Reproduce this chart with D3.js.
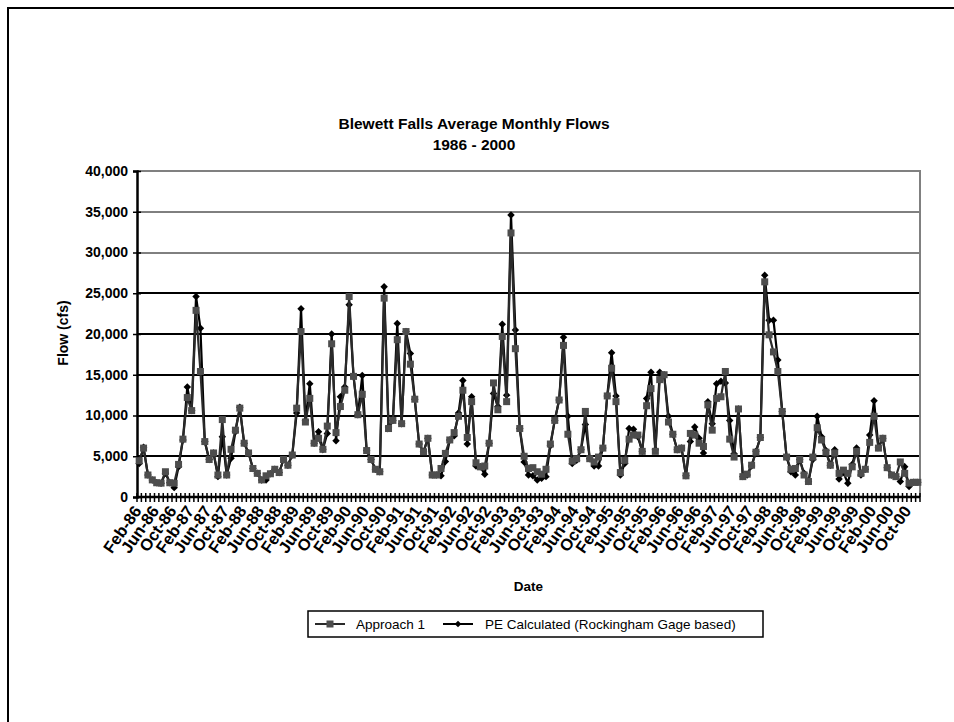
<!DOCTYPE html>
<html lang="en">
<head>
<meta charset="utf-8">
<title>Blewett Falls Average Monthly Flows</title>
<script type="text/javascript" src="https://d3js.org/d3.v7.min.js"></script>
<style type="text/css">
  html, body { margin: 0; padding: 0; background: #fff; }
  svg text { font-family: Arial, "Liberation Sans", sans-serif; fill: #000; }
  .bold { font-weight: bold; }
</style>
</head>
<body>
<script type="text/javascript">
// monthly data, Feb-86 .. Dec-00 (179 months)
var startMonth = new Date(1986, 1, 1);
var endMonth = new Date(2001, 0, 1);

var tickLabels = ["Feb-86","Jun-86","Oct-86","Feb-87","Jun-87","Oct-87","Feb-88","Jun-88","Oct-88",
  "Feb-89","Jun-89","Oct-89","Feb-90","Jun-90","Oct-90","Feb-91","Jun-91","Oct-91","Feb-92","Jun-92",
  "Oct-92","Feb-93","Jun-93","Oct-93","Feb-94","Jun-94","Oct-94","Feb-95","Jun-95","Oct-95","Feb-96",
  "Jun-96","Oct-96","Feb-97","Jun-97","Oct-97","Feb-98","Jun-98","Oct-98","Feb-99","Jun-99","Oct-99",
  "Feb-00","Jun-00","Oct-00"];

var yTicks = [0, 5000, 10000, 15000, 20000, 25000, 30000, 35000, 40000];

// Approach 1 (squares)
var approach1 = [
  4450, 6000, 2700, 2100, 1750, 1700, 3100, 1750, 1700, 4000, 7100, 12200,
  10600, 22900, 15400, 6800, 4600, 5400, 2700, 9500, 2700, 5850, 8200, 10900,
  6600, 5400, 3500, 2900, 2100, 2600, 2850, 3400, 3000, 4600, 3900, 5150,
  10900, 20300, 9200, 12100, 6600, 7200, 5850, 8700, 18800, 7900, 11100, 13100,
  24600, 14800, 10100, 12600, 5700, 4600, 3400, 3100, 24400, 8400, 9400, 19300,
  9000, 20300, 16300, 12000, 6500, 5550, 7200, 2700, 2700, 3500, 5350, 7000,
  7900, 9900, 13100, 7300, 11700, 4200, 3700, 3800, 6600, 14000, 10700, 19700,
  11700, 32400, 18200, 8400, 5000, 3500, 3600, 3100, 2800, 3400, 6500, 9400,
  11900, 18600, 7700, 4400, 4700, 5800, 10500, 4700, 4300, 4900, 6000, 12400,
  15800, 11700, 3000, 4500, 7100, 7600, 7600, 5600, 11200, 13300, 5600, 14400,
  15000, 9200, 7700, 5800, 6000, 2600, 7800, 7600, 6600, 6200, 11300, 8200,
  12100, 12300, 15400, 7100, 4900, 10800, 2500, 2800, 3900, 5500, 7300, 26400,
  19900, 17800, 15400, 10500, 4900, 3400, 3500, 4600, 2700, 1900, 4900, 8500,
  7000, 5500, 3900, 5400, 2900, 3300, 2900, 3700, 5600, 2900, 3400, 6700,
  9900, 6000, 7200, 3600, 2700, 2500, 4300, 2900, 1700, 1800, 1800
];

// PE Calculated (Rockingham Gage based) (diamonds)
var peCalc = [
  4100, 6100, 2700, 2100, 1750, 1700, 2900, 1750, 1150, 3700, 7000, 13500,
  10600, 24600, 20700, 6800, 4600, 5400, 2500, 7400, 2700, 4750, 8000, 11000,
  6600, 5400, 3500, 2900, 2100, 2100, 2850, 3400, 3000, 4600, 3900, 5150,
  10300, 23100, 9400, 13900, 6600, 8000, 5850, 7800, 20000, 6900, 12300, 13500,
  23600, 14800, 10100, 14900, 5700, 4600, 3400, 3100, 25800, 8600, 9400, 21300,
  9000, 20300, 17600, 12000, 6500, 5550, 7200, 2700, 2700, 2600, 4350, 7000,
  7500, 10300, 14300, 6500, 12300, 3800, 3700, 2800, 6600, 12700, 11100, 21200,
  12500, 34600, 20500, 8400, 4300, 2700, 2600, 2100, 2300, 2500, 6300, 9400,
  11900, 19600, 9900, 4100, 4500, 5800, 8900, 4700, 3800, 3800, 6000, 12400,
  17700, 12400, 2700, 4100, 8400, 8300, 7400, 5600, 12100, 15300, 5800, 15300,
  15000, 9900, 7700, 5800, 6000, 2600, 6800, 8600, 7200, 5400, 11700, 9000,
  13900, 14200, 14000, 9400, 5300, 10800, 2500, 2700, 3800, 5600, 7300, 27200,
  21700, 21700, 16800, 10500, 4900, 3100, 2700, 4600, 2900, 1900, 4600, 9900,
  7400, 5700, 3900, 5800, 2200, 3000, 1700, 4000, 6000, 2700, 3400, 7600,
  11800, 6100, 7200, 3600, 2700, 2500, 1900, 3700, 1300, 1800, 1800
];

var months = d3.timeMonth.range(startMonth, endMonth);
var fmt = d3.timeFormat("%b-%y");
var categories = months.map(function(d) { return fmt(d); });

var W = 954, H = 722;
var plot = { left: 137, right: 920, top: 171, bottom: 497 };

var svg = d3.select("body")
  .append("svg")
  .attr("width", W)
  .attr("height", H);

// outer chart border (right and bottom fall outside the picture)
svg.append("rect")
  .attr("x", 8).attr("y", 8)
  .attr("width", 1000).attr("height", 900)
  .attr("fill", "none")
  .attr("stroke", "#000")
  .attr("stroke-width", 2);

var x = d3.scaleBand()
  .domain(categories)
  .range([plot.left, plot.right])
  .paddingInner(0).paddingOuter(0);

var y = d3.scaleLinear()
  .domain([0, 40000])
  .range([plot.bottom, plot.top]);

// gridlines
svg.append("g")
  .selectAll("line")
  .data(yTicks.filter(function(d) { return d > 0 && d < 40000; }))
  .enter()
  .append("line")
  .attr("x1", plot.left).attr("x2", plot.right)
  .attr("y1", function(d) { return Math.round(y(d)); })
  .attr("y2", function(d) { return Math.round(y(d)); })
  .attr("stroke", "#000")
  .attr("stroke-width", function(d) { return d >= 30000 ? 1 : 2; });

// plot area frame top & right (gray)
svg.append("path")
  .attr("d", "M" + plot.left + "," + plot.top + "H" + plot.right + "V" + plot.bottom)
  .attr("fill", "none")
  .attr("stroke", "#808080")
  .attr("stroke-width", 2);

// y axis
var yAxis = d3.axisLeft(y)
  .tickValues(yTicks)
  .tickSize(4)
  .tickFormat(d3.format(","));
var gy = svg.append("g")
  .attr("transform", "translate(" + plot.left + ",0)")
  .call(yAxis);
gy.select(".domain").attr("stroke", "#000").attr("stroke-width", 2.5);
gy.selectAll(".tick line").attr("x2", 4).attr("x1", -4).attr("stroke-width", 1.5);
gy.selectAll(".tick text")
  .attr("x", -9)
  .attr("class", "bold")
  .style("font-size", "14px")
  .style("font-family", "Arial, 'Liberation Sans', sans-serif");

// x axis, cross ticks on every category boundary
var gx = svg.append("g");
gx.selectAll("line.tk")
  .data(d3.range(categories.length + 1))
  .enter()
  .append("line")
  .attr("class", "tk")
  .attr("x1", function(i) { return plot.left + i * x.step(); })
  .attr("x2", function(i) { return plot.left + i * x.step(); })
  .attr("y1", plot.bottom - 4)
  .attr("y2", plot.bottom + 5)
  .attr("stroke", "#000")
  .attr("stroke-width", 1.5);
gx.append("line")
  .attr("x1", plot.left).attr("x2", plot.right)
  .attr("y1", plot.bottom).attr("y2", plot.bottom)
  .attr("stroke", "#000")
  .attr("stroke-width", 2.5);

// every 4th month label, rotated
gx.selectAll("text")
  .data(categories.filter(function(d) { return tickLabels.indexOf(d) >= 0; }))
  .enter()
  .append("text")
  .attr("class", "bold")
  .style("font-size", "16.5px")
  .attr("text-anchor", "end")
  .attr("transform", function(d) {
    var cx = x(d) + x.bandwidth() / 2 + 3;
    return "translate(" + cx + "," + (plot.bottom + 14) + ") rotate(-55)";
  })
  .text(function(d) { return d; });

// series
var line = d3.line()
  .x(function(d, i) { return x(categories[i]) + x.bandwidth() / 2; })
  .y(function(d) { return y(d); });

svg.append("path")
  .datum(peCalc)
  .attr("d", line)
  .attr("fill", "none")
  .attr("stroke", "#000")
  .attr("stroke-width", 2.2);

svg.append("g")
  .selectAll("path")
  .data(peCalc)
  .enter()
  .append("path")
  .attr("d", d3.symbol().type(d3.symbolSquare).size(28))
  .attr("transform", function(d, i) {
    return "translate(" + (x(categories[i]) + x.bandwidth() / 2) + "," + y(d) + ") rotate(45)";
  })
  .attr("fill", "#000");

svg.append("path")
  .datum(approach1)
  .attr("d", line)
  .attr("fill", "none")
  .attr("stroke", "#2a2a2a")
  .attr("stroke-width", 2.2);

svg.append("g")
  .selectAll("rect")
  .data(approach1)
  .enter()
  .append("rect")
  .attr("x", function(d, i) { return x(categories[i]) + x.bandwidth() / 2 - 3.5; })
  .attr("y", function(d) { return y(d) - 3.5; })
  .attr("width", 7).attr("height", 7)
  .attr("fill", "#4d4d4d");

// titles
svg.append("text")
  .attr("class", "bold")
  .attr("x", 474).attr("y", 129)
  .attr("text-anchor", "middle")
  .style("font-size", "15.5px")
  .text("Blewett Falls Average Monthly Flows");
svg.append("text")
  .attr("class", "bold")
  .attr("x", 474).attr("y", 150)
  .attr("text-anchor", "middle")
  .style("font-size", "15.5px")
  .text("1986 - 2000");

svg.append("text")
  .attr("class", "bold")
  .attr("transform", "translate(68,333) rotate(-90)")
  .attr("text-anchor", "middle")
  .style("font-size", "14px")
  .text("Flow (cfs)");

svg.append("text")
  .attr("class", "bold")
  .attr("x", (plot.left + plot.right) / 2).attr("y", 591)
  .attr("text-anchor", "middle")
  .style("font-size", "13.5px")
  .text("Date");

// legend
var lg = svg.append("g");
lg.append("rect")
  .attr("x", 308).attr("y", 611)
  .attr("width", 455).attr("height", 26)
  .attr("fill", "#fff")
  .attr("stroke", "#000")
  .attr("stroke-width", 1.5);
lg.append("line")
  .attr("x1", 315).attr("x2", 345).attr("y1", 624).attr("y2", 624)
  .attr("stroke", "#2a2a2a").attr("stroke-width", 2);
lg.append("rect")
  .attr("x", 326.5).attr("y", 620.5).attr("width", 7).attr("height", 7)
  .attr("fill", "#4d4d4d");
lg.append("text")
  .attr("x", 356).attr("y", 629)
  .style("font-size", "13.5px")
  .text("Approach 1");
lg.append("line")
  .attr("x1", 443).attr("x2", 473).attr("y1", 624).attr("y2", 624)
  .attr("stroke", "#000").attr("stroke-width", 2);
lg.append("path")
  .attr("d", d3.symbol().type(d3.symbolSquare).size(22))
  .attr("transform", "translate(458,624) rotate(45)")
  .attr("fill", "#000");
lg.append("text")
  .attr("x", 485).attr("y", 629)
  .style("font-size", "13.5px")
  .text("PE Calculated (Rockingham Gage based)");
</script>
</body>
</html>
